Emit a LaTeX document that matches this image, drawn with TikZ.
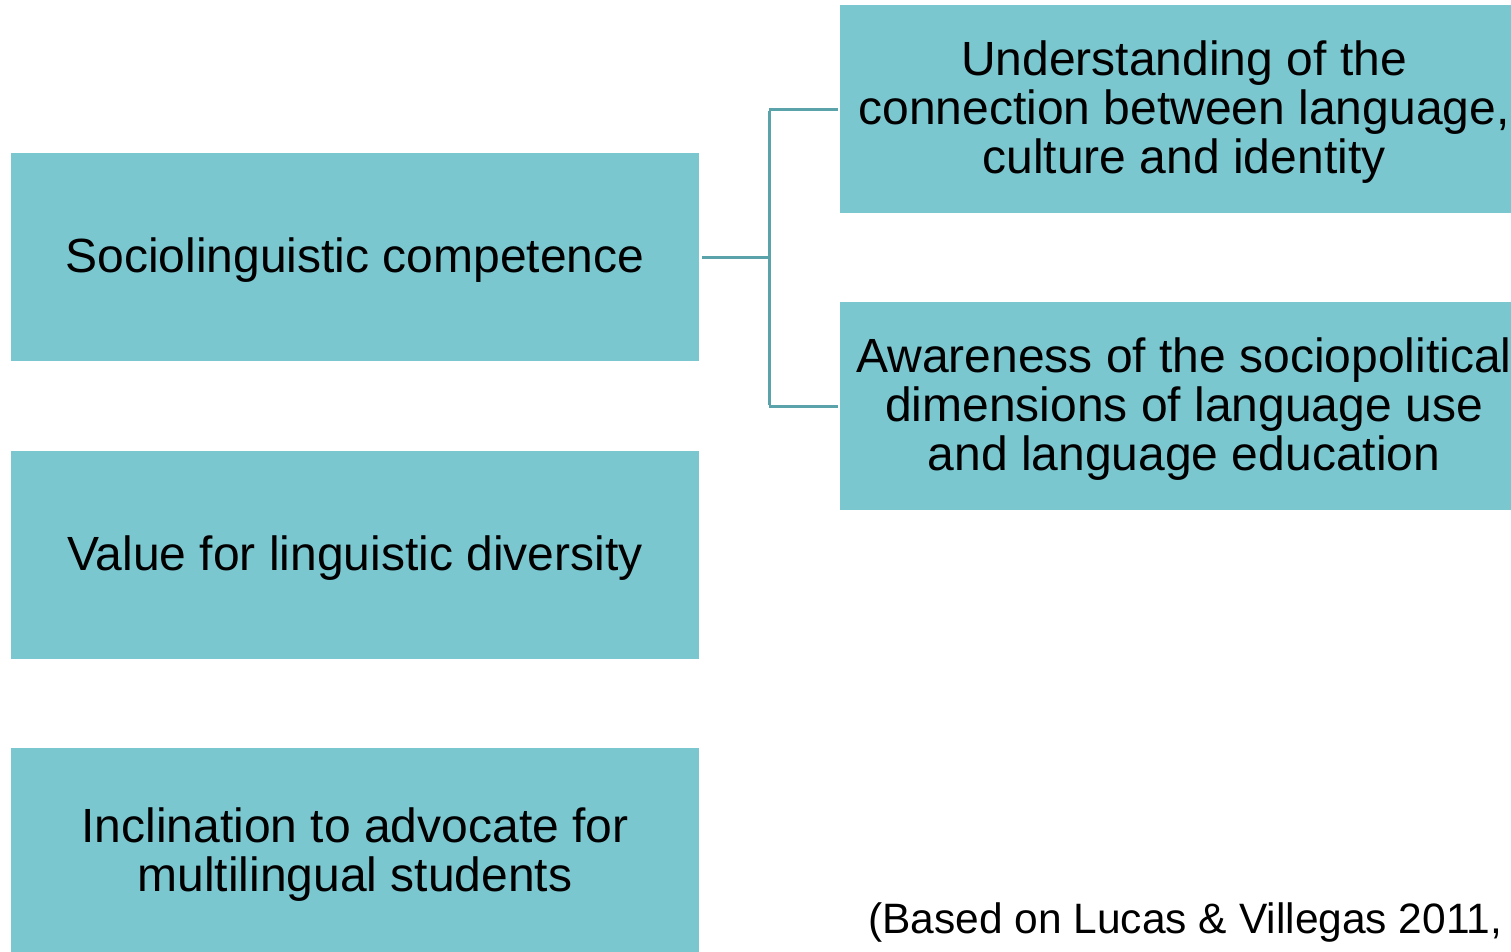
\documentclass[tikz,border=0pt]{standalone}
\usepackage{fontspec}
\setmainfont{Liberation Sans}
\definecolor{boxfill}{HTML}{7AC7D0}
\definecolor{linkcol}{HTML}{5BA3AB}
\begin{document}
\begin{tikzpicture}[x=1pt,y=-1pt,
  box/.style={fill=boxfill,draw=none,inner sep=0pt,minimum width=688pt,minimum height=208pt},
  lbl/.style={inner sep=0pt,align=center,font=\fontsize{48}{49}\selectfont,text=black,yshift=-3pt},
  link/.style={draw=linkcol,line width=3pt}]
\useasboundingbox (0,0) rectangle (1511,951);
\clip (0,0) rectangle (1511,951);
\fill[white] (0,0) rectangle (1511,951);
% left column
\node[box] (soc) at (355,257) {};
\node[box] (val) at (355,555) {};
\node[box] (inc) at (355,852) {};
\node[lbl] (socT) at (soc.center) {Sociolinguistic competence};
\node[lbl] (valT) at (val.center) {Value for linguistic diversity};
\node[lbl] (incT) at (inc.center) {Inclination to advocate for\\multilingual students};
% right column
\node[box] (und) at (1184,109) {};
\node[box] (awa) at (1184,406) {};
\node[lbl] (undT) at (und.center) {Understanding of the\\connection between language,\\culture and identity};
\node[lbl] (awaT) at (awa.center) {Awareness of the sociopolitical\\dimensions of language use\\and language education};
% bracket connector
\coordinate (j) at (769,257);
\draw[link] ([xshift=3pt]soc.east) -- (j);
\draw[link] (und.west -| j) -- ([xshift=-2pt]und.west);
\draw[link] (awa.west -| j) -- ([xshift=-2pt]awa.west);
\draw[link] ([yshift=-1.5pt]und.west -| j) -- ([yshift=1.5pt]awa.west -| j);
% source note
\node[anchor=base west,inner sep=0pt,font=\fontsize{42.5}{44}\selectfont] (src) at (868,933) {(Based on Lucas \& Villegas 2011,};
\end{tikzpicture}
\end{document}
